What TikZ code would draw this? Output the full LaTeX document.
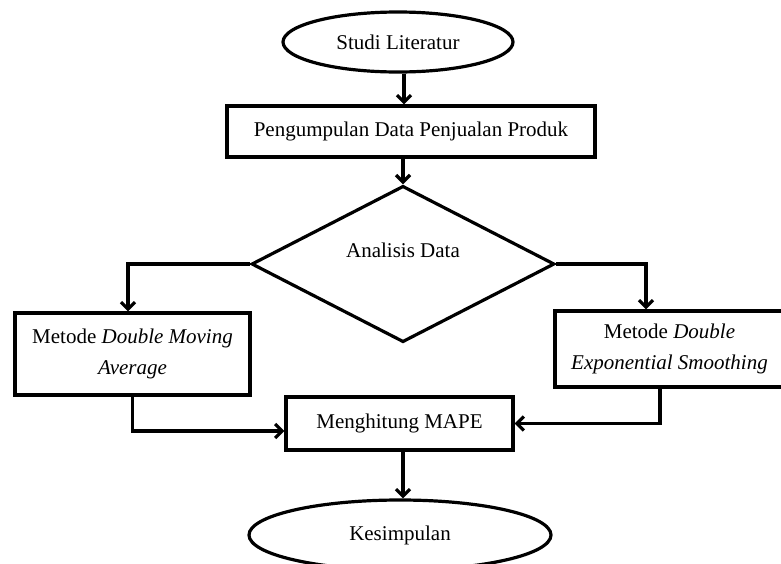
\documentclass[tikz,border=0pt]{standalone}
\usepackage{fontspec}
\setmainfont{Liberation Serif}
\usetikzlibrary{shapes.geometric,arrows.meta}

\begin{document}
\begin{tikzpicture}[x=1pt,y=-1pt,
    every node/.style={font=\fontsize{21}{31}\selectfont, inner sep=0pt},
    box/.style={draw, line width=3.2pt, rectangle, align=center},
    term/.style={draw, line width=3.2pt, ellipse},
    decision/.style={draw, line width=3.2pt, diamond},
    flow/.style={line width=3.2pt, -{Straight Barb[length=7pt,width=14pt]}}]

    \useasboundingbox (0,0) rectangle (781,563);

    % start and data
    \node[term, minimum width=230pt, minimum height=60pt] (studi) at (398,42) {Studi Literatur};
    \node[box, minimum width=368pt, minimum height=51pt] (data) at (411,131.5) {Pengumpulan Data Penjualan Produk};
    \node[decision, minimum width=303pt, minimum height=131pt, text depth=28pt] (analisis) at (403,264) {Analisis Data};

    % the two methods
    \node[box, minimum width=235pt, minimum height=82pt] (dma) at (132.5,354) {Metode \textit{Double Moving}\\\textit{Average}};
    \node[box, minimum width=229pt, minimum height=76pt] (des) at (669.5,349) {Metode \textit{Double}\\\textit{Exponential Smoothing}};

    % end
    \node[box, minimum width=227pt, minimum height=53pt] (mape) at (399.5,423.5) {Menghitung MAPE};
    \node[term, minimum width=302pt, minimum height=70pt] (hasil) at (400,535) {Kesimpulan};

    \draw[flow] ([xshift=6pt]studi.south) -- ([xshift=6pt]studi.south |- data.north);
    \draw[flow] (data.south -| analisis.north) -- (analisis.north);
    \draw[flow] (analisis.west) -| ([xshift=-4.5pt]dma.north);
    \draw[flow] (analisis.east) -| ([xshift=-23.5pt]des.north);
    \draw[flow] (dma.south) |- ([yshift=-7.5pt]mape.west);
    \draw[flow] ([xshift=-9.5pt]des.south) |- (mape.east);
    \draw[flow] ([xshift=3.5pt]mape.south) -- ([xshift=3.5pt]mape.south |- hasil.north);

\end{tikzpicture}
\end{document}
